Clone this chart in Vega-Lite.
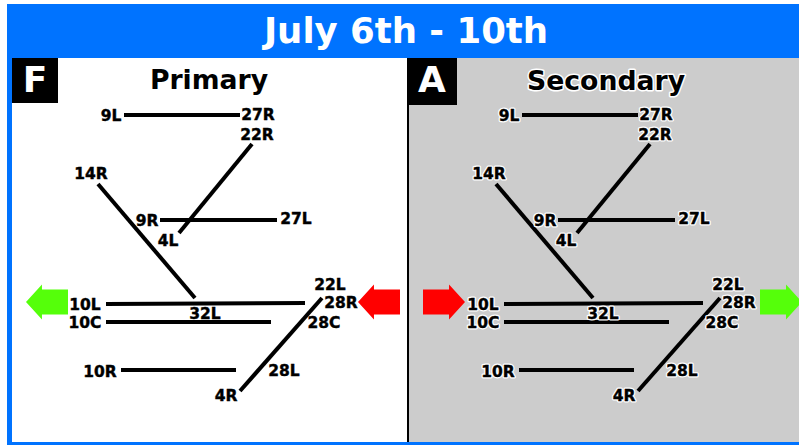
{
"$schema":"https://vega.github.io/schema/vega-lite/v6.json",
"width":799,"height":445,"padding":0,
"autosize":{"type":"none"},
"background":"white",
"config":{"view":{"stroke":null}},
"datasets":{
"areas":[
{"part":"frame","x":7,"x2":799,"y":4,"y2":445},
{"part":"primary","x":12,"x2":407,"y":58,"y2":442},
{"part":"divider","x":407,"x2":409,"y":58,"y2":442},
{"part":"secondary","x":409,"x2":799,"y":58,"y2":442},
{"part":"divider","x":12,"x2":58,"y":58,"y2":103},
{"part":"divider","x":409,"x2":457,"y":58,"y2":105}
],
"runways":[
{"panel":"Primary","x":124,"x2":240,"y":115,"y2":115},
{"panel":"Primary","x":252,"x2":179,"y":144,"y2":233},
{"panel":"Primary","x":98,"x2":195,"y":184,"y2":298},
{"panel":"Primary","x":160,"x2":277,"y":220,"y2":220},
{"panel":"Primary","x":106,"x2":305,"y":304,"y2":303},
{"panel":"Primary","x":106,"x2":271,"y":322,"y2":322},
{"panel":"Primary","x":121,"x2":236,"y":370,"y2":370},
{"panel":"Primary","x":240,"x2":322,"y":391,"y2":298},
{"panel":"Secondary","x":522,"x2":638,"y":115,"y2":115},
{"panel":"Secondary","x":650,"x2":577,"y":144,"y2":233},
{"panel":"Secondary","x":496,"x2":593,"y":184,"y2":298},
{"panel":"Secondary","x":558,"x2":675,"y":220,"y2":220},
{"panel":"Secondary","x":504,"x2":703,"y":304,"y2":303},
{"panel":"Secondary","x":504,"x2":669,"y":322,"y2":322},
{"panel":"Secondary","x":519,"x2":634,"y":370,"y2":370},
{"panel":"Secondary","x":638,"x2":720,"y":391,"y2":298}
],
"labels":[
{"panel":"Primary","t":"9L","x":111,"y":115},
{"panel":"Primary","t":"27R","x":258,"y":114},
{"panel":"Primary","t":"22R","x":257,"y":134},
{"panel":"Primary","t":"14R","x":91,"y":173},
{"panel":"Primary","t":"9R","x":147,"y":220},
{"panel":"Primary","t":"27L","x":296,"y":218},
{"panel":"Primary","t":"4L","x":168,"y":240},
{"panel":"Primary","t":"22L","x":330,"y":284},
{"panel":"Primary","t":"28R","x":341,"y":302},
{"panel":"Primary","t":"10L","x":85,"y":304},
{"panel":"Primary","t":"10C","x":85,"y":322},
{"panel":"Primary","t":"32L","x":205,"y":313},
{"panel":"Primary","t":"28C","x":324,"y":322},
{"panel":"Primary","t":"28L","x":284,"y":370},
{"panel":"Primary","t":"10R","x":100,"y":371},
{"panel":"Primary","t":"4R","x":226,"y":395},
{"panel":"Secondary","t":"9L","x":509,"y":115},
{"panel":"Secondary","t":"27R","x":656,"y":114},
{"panel":"Secondary","t":"22R","x":655,"y":134},
{"panel":"Secondary","t":"14R","x":489,"y":173},
{"panel":"Secondary","t":"9R","x":545,"y":220},
{"panel":"Secondary","t":"27L","x":694,"y":218},
{"panel":"Secondary","t":"4L","x":566,"y":240},
{"panel":"Secondary","t":"22L","x":728,"y":284},
{"panel":"Secondary","t":"28R","x":739,"y":302},
{"panel":"Secondary","t":"10L","x":483,"y":304},
{"panel":"Secondary","t":"10C","x":483,"y":322},
{"panel":"Secondary","t":"32L","x":603,"y":313},
{"panel":"Secondary","t":"28C","x":722,"y":322},
{"panel":"Secondary","t":"28L","x":682,"y":370},
{"panel":"Secondary","t":"10R","x":498,"y":371},
{"panel":"Secondary","t":"4R","x":624,"y":395}
]
},
"encoding":{
"x":{"field":"x","type":"quantitative","axis":null,"scale":{"domain":[0,799],"nice":false,"zero":false}},
"y":{"field":"y","type":"quantitative","axis":null,"scale":{"domain":[445,0],"nice":false,"zero":false}}
},
"layer":[
{"data":{"name":"areas"},"mark":{"type":"rect"},
 "encoding":{"x2":{"field":"x2"},"y2":{"field":"y2"},
 "color":{"field":"part","type":"nominal","legend":null,"scale":{"domain":["frame","primary","divider","secondary"],"range":["#0073ff","#ffffff","#000000","#cccccc"]}}}},
{"data":{"name":"runways"},"mark":{"type":"rule","stroke":"#000000","strokeWidth":4},
 "encoding":{"x2":{"field":"x2"},"y2":{"field":"y2"}}},
{"data":{"values":[{"x":47,"y":302}]},
 "mark":{"type":"point","filled":true,"opacity":1,"size":1764,"fill":"#55ff0a","stroke":null,"shape":"M-1,0L-0.24,-0.83L-0.24,-0.6L1,-0.6L1,0.6L-0.24,0.6L-0.24,0.83Z"}},
{"data":{"values":[{"x":379,"y":302}]},
 "mark":{"type":"point","filled":true,"opacity":1,"size":1764,"fill":"#ff0000","stroke":null,"shape":"M-1,0L-0.24,-0.83L-0.24,-0.6L1,-0.6L1,0.6L-0.24,0.6L-0.24,0.83Z"}},
{"data":{"values":[{"x":444,"y":302}]},
 "mark":{"type":"point","filled":true,"opacity":1,"size":1764,"fill":"#ff0000","stroke":null,"shape":"M1,0L0.24,-0.83L0.24,-0.6L-1,-0.6L-1,0.6L0.24,0.6L0.24,0.83Z"}},
{"data":{"values":[{"x":781,"y":302}]},
 "mark":{"type":"point","filled":true,"opacity":1,"size":1764,"fill":"#55ff0a","stroke":null,"shape":"M1,0L0.24,-0.83L0.24,-0.6L-1,-0.6L-1,0.6L0.24,0.6L0.24,0.83Z"}},
{"data":{"name":"labels"},"transform":[{"filter":"datum.panel==='Secondary'"}],
 "mark":{"type":"text","font":"DejaVu Sans","fontWeight":"bold","fontSize":15.5,"dy":0.5,"align":"center","baseline":"middle","stroke":"#ffffff","strokeWidth":3,"strokeJoin":"round"},
 "encoding":{"text":{"field":"t"}}},
{"data":{"name":"labels"},
 "mark":{"type":"text","font":"DejaVu Sans","fontWeight":"bold","fontSize":15.5,"dy":0.5,"align":"center","baseline":"middle","fill":"#000000","stroke":"#000000","strokeWidth":0.4},
 "encoding":{"text":{"field":"t"}}},
{"data":{"values":[{"t":"July 6th - 10th","x":406,"y":32}]},
 "mark":{"type":"text","font":"DejaVu Sans","fontWeight":"bold","fontSize":35.5,"align":"center","baseline":"middle","fill":"#ffffff"},
 "encoding":{"text":{"field":"t"}}},
{"data":{"values":[{"t":"Secondary","x":606,"y":82}]},
 "mark":{"type":"text","font":"DejaVu Sans","fontWeight":"bold","fontSize":26.7,"align":"center","baseline":"middle","stroke":"#ffffff","strokeWidth":3,"strokeJoin":"round"},
 "encoding":{"text":{"field":"t"}}},
{"data":{"values":[{"t":"Primary","x":209,"y":81},{"t":"Secondary","x":606,"y":82}]},
 "mark":{"type":"text","font":"DejaVu Sans","fontWeight":"bold","fontSize":26.7,"align":"center","baseline":"middle","fill":"#000000"},
 "encoding":{"text":{"field":"t"}}},
{"data":{"values":[{"t":"F","x":35,"y":81},{"t":"A","x":432,"y":81}]},
 "mark":{"type":"text","font":"DejaVu Sans","fontWeight":"bold","fontSize":36,"align":"center","baseline":"middle","fill":"#ffffff"},
 "encoding":{"text":{"field":"t"}}}
]
}
